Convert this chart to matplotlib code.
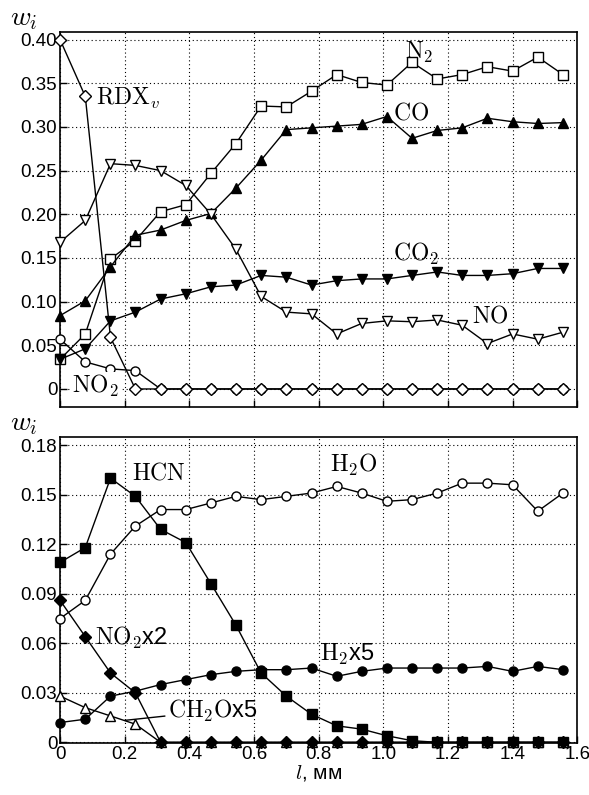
import matplotlib
matplotlib.use('Agg')
import matplotlib.pyplot as plt

plt.rcParams['font.family'] = ['Liberation Sans', 'DejaVu Sans']
plt.rcParams['mathtext.fontset'] = 'cm'

# distance along the flame, mm
l_mm = [0.000, 0.078, 0.156, 0.233, 0.311, 0.389, 0.467, 0.544, 0.622, 0.700,
        0.778, 0.856, 0.933, 1.011, 1.089, 1.167, 1.244, 1.322, 1.400, 1.478, 1.556]

# top panel
rdx = [0.400, 0.335, 0.059, 0, 0, 0, 0, 0, 0, 0, 0, 0, 0, 0, 0, 0, 0, 0, 0, 0, 0]
no2 = [0.057, 0.031, 0.023, 0.021, 0, 0, 0, 0, 0, 0, 0, 0, 0, 0, 0, 0, 0, 0, 0, 0, 0]
n2 = [0.034, 0.063, 0.149, 0.170, 0.203, 0.211, 0.247, 0.281, 0.324, 0.323, 0.341,
      0.360, 0.351, 0.348, 0.374, 0.355, 0.360, 0.369, 0.364, 0.380, 0.360]
co = [0.084, 0.101, 0.140, 0.176, 0.182, 0.193, 0.201, 0.230, 0.262, 0.297, 0.299,
      0.301, 0.303, 0.312, 0.287, 0.296, 0.299, 0.310, 0.306, 0.304, 0.305]
co2 = [0.034, 0.046, 0.078, 0.088, 0.103, 0.109, 0.117, 0.119, 0.130, 0.128, 0.119,
       0.124, 0.126, 0.126, 0.130, 0.134, 0.130, 0.130, 0.132, 0.138, 0.138]
no = [0.168, 0.193, 0.258, 0.256, 0.250, 0.233, 0.200, 0.160, 0.106, 0.088, 0.086,
      0.063, 0.075, 0.078, 0.077, 0.079, 0.073, 0.052, 0.063, 0.057, 0.065]

# bottom panel
hcn = [0.109, 0.118, 0.160, 0.149, 0.129, 0.121, 0.096, 0.071, 0.042, 0.028, 0.017,
       0.010, 0.008, 0.004, 0.001, 0, 0, 0, 0, 0, 0]
h2o = [0.075, 0.086, 0.114, 0.131, 0.141, 0.141, 0.145, 0.149, 0.147, 0.149, 0.151,
       0.155, 0.151, 0.146, 0.147, 0.151, 0.157, 0.157, 0.156, 0.140, 0.151]
no2x2 = [0.086, 0.064, 0.042, 0.030, 0, 0, 0, 0, 0, 0, 0, 0, 0, 0, 0, 0, 0, 0, 0, 0, 0]
h2x5 = [0.012, 0.014, 0.028, 0.031, 0.035, 0.038, 0.041, 0.043, 0.044, 0.044, 0.045,
        0.040, 0.043, 0.045, 0.045, 0.045, 0.045, 0.046, 0.043, 0.046, 0.044]
ch2ox5 = [0.028, 0.021, 0.016, 0.011, 0, 0, 0, 0, 0, 0, 0, 0, 0, 0, 0, 0, 0, 0, 0, 0, 0]

x_ticks = [0, 0.2, 0.4, 0.6, 0.8, 1.0, 1.2, 1.4, 1.6]
x_ticklabels = ['0', '0.2', '0.4', '0.6', '0.8', '1.0', '1.2', '1.4', '1.6']
top_yticks = [0, 0.05, 0.10, 0.15, 0.20, 0.25, 0.30, 0.35, 0.40]
top_ylabels = ['0', '0.05', '0.10', '0.15', '0.20', '0.25', '0.30', '0.35', '0.40']
bot_yticks = [0, 0.03, 0.06, 0.09, 0.12, 0.15, 0.18]
bot_ylabels = ['0', '0.03', '0.06', '0.09', '0.12', '0.15', '0.18']

fig = plt.figure(figsize=(5.89, 7.95), dpi=100)
ax1 = fig.add_axes([0.102, 0.488, 0.878, 0.472])
ax2 = fig.add_axes([0.102, 0.065, 0.878, 0.385])

def curve(ax, y, marker, filled):
    ax.plot(l_mm, y, color='black', lw=1.0, marker=marker, ms=6.5, mew=1.0,
            mfc='black' if filled else 'white', mec='black', clip_on=False, zorder=3)

def style(ax, yticks, ylabels, ylim):
    ax.set_xlim(0, 1.6)
    ax.set_ylim(*ylim)
    ax.set_xticks(x_ticks)
    ax.set_yticks(yticks)
    ax.set_yticklabels(ylabels)
    ax.grid(True, color='black', ls=(0, (1, 2.5)), lw=0.8)
    ax.tick_params(direction='in', length=5, width=1, labelsize=13.5, pad=2)
    for s in ax.spines.values():
        s.set_linewidth(1.2)
    ax.text(-0.097, 1.0, r'$w_i$', transform=ax.transAxes, fontsize=20,
            ha='left', va='bottom')

# top panel
curve(ax1, n2, 's', False)
curve(ax1, co, '^', True)
curve(ax1, co2, 'v', True)
curve(ax1, no, 'v', False)
curve(ax1, no2, 'o', False)
curve(ax1, rdx, 'D', False)
style(ax1, top_yticks, top_ylabels, (-0.0207, 0.409))
ax1.set_xticklabels([])

lab = dict(fontsize=17, color='black')
ax1.text(0.11, 0.333, r'$\mathrm{RDX}_v$', ha='left', va='center', **lab)
ax1.text(1.11, 0.385, r'$\mathrm{N_2}$', ha='center', va='center', **lab)
ax1.text(1.085, 0.316, r'$\mathrm{CO}$', ha='center', va='center', **lab)
ax1.text(1.10, 0.155, r'$\mathrm{CO_2}$', ha='center', va='center', **lab)
ax1.text(1.33, 0.083, r'$\mathrm{NO}$', ha='center', va='center', **lab)
ax1.text(0.11, 0.004, r'$\mathrm{NO_2}$', ha='center', va='center',
         bbox=dict(fc='white', ec='none', pad=0.5), zorder=4, **lab)

# bottom panel
curve(ax2, h2o, 'o', False)
curve(ax2, hcn, 's', True)
curve(ax2, ch2ox5, '^', False)
curve(ax2, h2x5, 'o', True)
curve(ax2, no2x2, 'D', True)
style(ax2, bot_yticks, bot_ylabels, (-0.0006, 0.1848))
ax2.set_xticklabels(x_ticklabels)
ax2.set_xlabel(r'$l$, мм', fontsize=15, labelpad=0)

ax2.text(0.306, 0.163, r'$\mathrm{HCN}$', ha='center', va='center', **lab)
ax2.text(0.91, 0.168, r'$\mathrm{H_2O}$', ha='center', va='center', **lab)
ax2.text(0.108, 0.063, r'$\mathrm{NO_2}$x2', ha='left', va='center', **lab)
ax2.text(0.89, 0.053, r'$\mathrm{H_2}$x5', ha='center', va='center', **lab)
ax2.annotate(r'$\mathrm{CH_2O}$x5', xy=(0.20, 0.0133), xytext=(0.333, 0.019),
             ha='left', va='center',
             arrowprops=dict(arrowstyle='-', color='black', lw=1.0,
                             shrinkA=0, shrinkB=0), **lab)

fig.savefig('out.png', dpi=100)
